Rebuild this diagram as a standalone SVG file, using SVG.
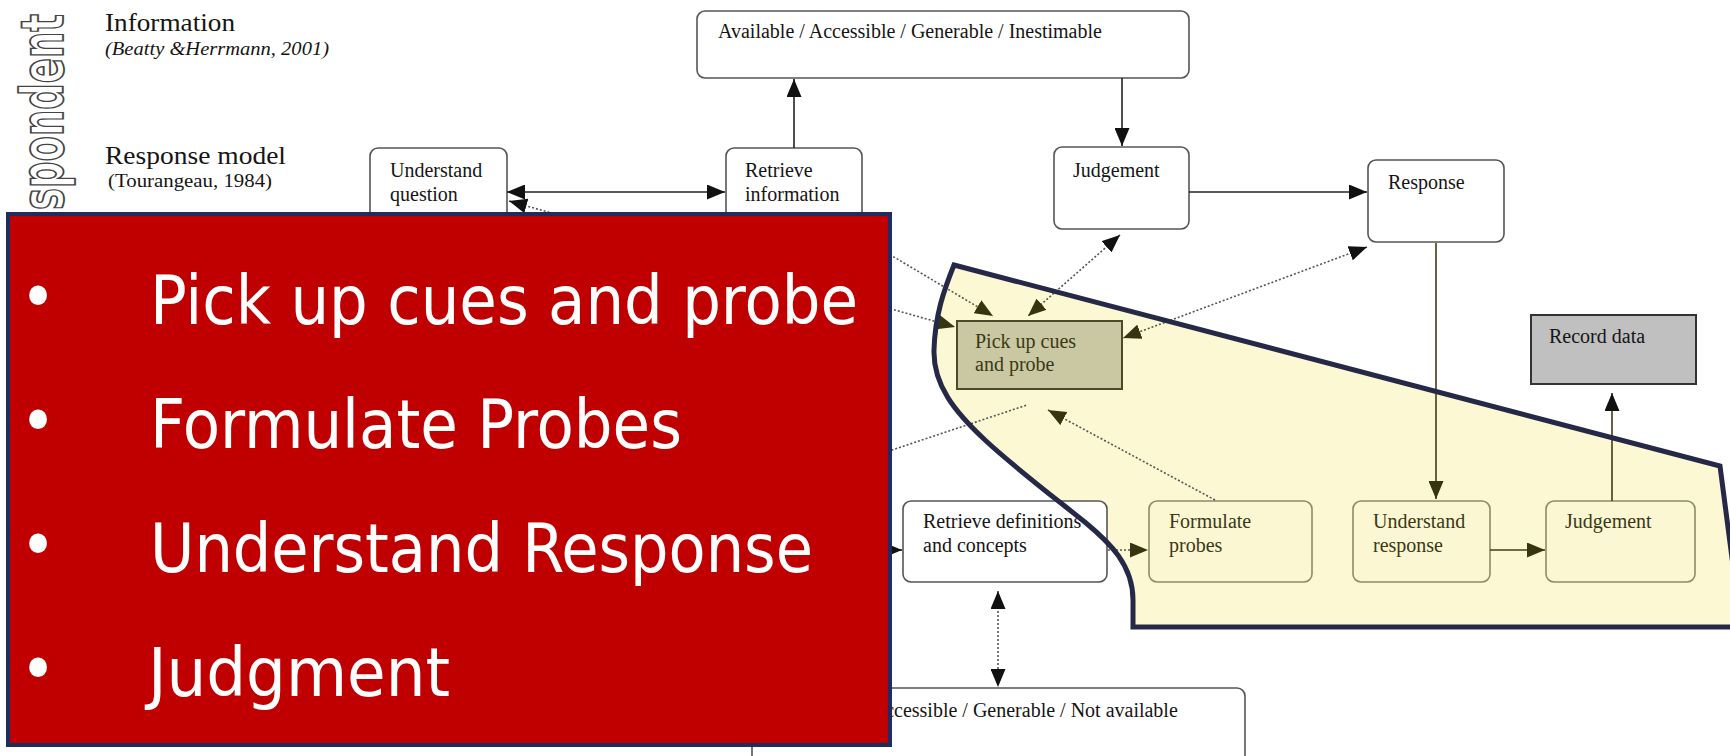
<svg xmlns="http://www.w3.org/2000/svg" width="1730" height="756" viewBox="0 0 1730 756">
  <defs>
    <marker id="ahB" markerUnits="userSpaceOnUse" markerWidth="18" markerHeight="15" refX="18" refY="7.5" orient="auto-start-reverse">
      <path d="M0,0 L18,7.5 L0,15 Z" fill="#111"/>
    </marker>
    <marker id="ahO" markerUnits="userSpaceOnUse" markerWidth="18" markerHeight="15" refX="18" refY="7.5" orient="auto-start-reverse">
      <path d="M0,0 L18,7.5 L0,15 Z" fill="#37350f"/>
    </marker>
  </defs>
  <style>
    .box{fill:#fff;stroke:#555;stroke-width:1.6}
    .ybox{fill:#fbf7d2;stroke:#8e8a66;stroke-width:1.6}
    .t{font-family:"Liberation Serif","Times New Roman",serif;font-size:20px;fill:#151515}
    .ty{font-family:"Liberation Serif","Times New Roman",serif;font-size:20px;fill:#3a3816}
    .head{font-family:"Liberation Serif","Times New Roman",serif;font-size:26px;fill:#151515}
    .cite{font-family:"Liberation Serif","Times New Roman",serif;font-size:19px;fill:#151515}
    .solid{stroke:#222;stroke-width:1.6;fill:none}
    .solidO{stroke:#3f3c18;stroke-width:1.6;fill:none}
    .dot{stroke:#555;stroke-width:1.6;stroke-dasharray:2 2;fill:none}
    .bul{font-family:"DejaVu Sans Condensed","DejaVu Sans",sans-serif;font-size:68px;fill:#fff}
  </style>

  <!-- side label, outlined letters -->
  <g id="side-label">
    <text transform="translate(63,210) rotate(-90)" textLength="196" lengthAdjust="spacingAndGlyphs"
          font-family="DejaVu Sans" font-weight="bold" font-size="58" fill="#fff" stroke="#444" stroke-width="1.8">spondent</text>
  </g>

  <!-- row headings -->
  <g id="headings">
    <text class="head" x="105" y="31" textLength="130" lengthAdjust="spacingAndGlyphs">Information</text>
    <text class="cite" x="105" y="55" font-style="italic" textLength="224" lengthAdjust="spacingAndGlyphs">(Beatty &amp;Herrmann, 2001)</text>
    <text class="head" x="105" y="164" textLength="181" lengthAdjust="spacingAndGlyphs">Response model</text>
    <text class="cite" x="108" y="187" textLength="164" lengthAdjust="spacingAndGlyphs">(Tourangeau, 1984)</text>
  </g>

  <!-- interviewer region background -->
  <path id="region-fill" d="M954,265 L1720,466 L1741,627 L1133,627 L1133,600 C1133,565 1110,543 1086,523 C1060,502 1015,468 985,440 C955,412 933,385 934,350 C935,315 944,290 954,265 Z" fill="#fcf8d3"/>

  <!-- nodes -->
  <g id="info-top">
    <rect class="box" x="697" y="11" width="492" height="67" rx="8"/>
    <text class="t" x="718" y="38">Available / Accessible / Generable / Inestimable</text>
  </g>
  <g id="understand-question">
    <rect class="box" x="370" y="148" width="137" height="82" rx="8"/>
    <text class="t" x="390" y="177">Understand</text>
    <text class="t" x="390" y="201">question</text>
  </g>
  <g id="retrieve-information">
    <rect class="box" x="726" y="148" width="136" height="82" rx="8"/>
    <text class="t" x="745" y="177">Retrieve</text>
    <text class="t" x="745" y="201">information</text>
  </g>
  <g id="judgement-top">
    <rect class="box" x="1054" y="147" width="135" height="82" rx="8"/>
    <text class="t" x="1073" y="177">Judgement</text>
  </g>
  <g id="response">
    <rect class="box" x="1368" y="160" width="136" height="82" rx="8"/>
    <text class="t" x="1388" y="189">Response</text>
  </g>
  <g id="pick-up-cues">
    <rect x="957" y="321" width="165" height="68" fill="#c9c8a2" stroke="#4d4a2a" stroke-width="2"/>
    <text class="ty" x="975" y="348">Pick up cues</text>
    <text class="ty" x="975" y="371">and probe</text>
  </g>
  <g id="record-data">
    <rect x="1531" y="315" width="165" height="69" fill="#c0c0c0" stroke="#333" stroke-width="2"/>
    <text class="t" x="1549" y="343">Record data</text>
  </g>
  <g id="retrieve-definitions">
    <rect class="box" x="903" y="501" width="204" height="81" rx="8"/>
    <text class="t" x="923" y="528">Retrieve definitions</text>
    <text class="t" x="923" y="552">and concepts</text>
  </g>
  <g id="formulate-probes">
    <rect class="ybox" x="1149" y="501" width="163" height="81" rx="8"/>
    <text class="ty" x="1169" y="528">Formulate</text>
    <text class="ty" x="1169" y="552">probes</text>
  </g>
  <g id="understand-response">
    <rect class="ybox" x="1353" y="501" width="137" height="81" rx="8"/>
    <text class="ty" x="1373" y="528">Understand</text>
    <text class="ty" x="1373" y="552">response</text>
  </g>
  <g id="judgement-bottom">
    <rect class="ybox" x="1546" y="501" width="149" height="81" rx="8"/>
    <text class="ty" x="1565" y="528">Judgement</text>
  </g>
  <g id="info-bottom">
    <rect class="box" x="752" y="688" width="493" height="90" rx="8"/>
    <text class="t" x="780" y="717">Available / Accessible / Generable / Not available</text>
  </g>

  <!-- connectors -->
  <g id="connectors">
    <path class="solid" d="M507,192 L725,192" marker-start="url(#ahB)" marker-end="url(#ahB)"/>
    <path class="solid" d="M794,148 L794,79" marker-end="url(#ahB)"/>
    <path class="solid" d="M1122,78 L1122,146" marker-end="url(#ahB)"/>
    <path class="solid" d="M1189,192 L1367,192" marker-end="url(#ahB)"/>
    <path class="dot" d="M852,232 L993,316" marker-end="url(#ahO)"/>
    <path class="dot" d="M509,201 L955,327" marker-start="url(#ahB)" marker-end="url(#ahO)"/>
    <path class="dot" d="M1120,235 L1028,316" marker-start="url(#ahB)" marker-end="url(#ahO)"/>
    <path class="dot" d="M1367,247 L1123,338" marker-start="url(#ahB)" marker-end="url(#ahO)"/>
    <path class="dot" d="M880,454 L1027,405"/>
    <path class="solidO" d="M1436,243 L1436,499" marker-end="url(#ahO)"/>
    <path class="solidO" d="M1490,550 L1545,550" marker-end="url(#ahO)"/>
    <path class="solidO" d="M1612,501 L1612,393" marker-end="url(#ahB)"/>
    <path class="dot" d="M1108,550 L1148,550" marker-end="url(#ahO)"/>
    <path class="dot" d="M1215,500 L1048,410" marker-end="url(#ahO)"/>
    <path class="solid" d="M880,550 L902,550" marker-end="url(#ahB)"/>
    <path class="dot" d="M998,591 L998,687" marker-start="url(#ahB)" marker-end="url(#ahB)"/>
  </g>

  <!-- interviewer region outline -->
  <path id="region-outline" d="M954,265 L1720,466 L1741,627 L1133,627 L1133,600 C1133,565 1110,543 1086,523 C1060,502 1015,468 985,440 C955,412 933,385 934,350 C935,315 944,290 954,265 Z" fill="none" stroke="#262848" stroke-width="5" stroke-linejoin="miter"/>

  <!-- summary callout -->
  <g id="callout">
    <rect x="8" y="214" width="882" height="531" fill="#c00000" stroke="#1f2d5e" stroke-width="4"/>
    <text class="bul" x="20" y="320" font-size="52">•</text>
    <text class="bul" x="20" y="444" font-size="52">•</text>
    <text class="bul" x="20" y="568" font-size="52">•</text>
    <text class="bul" x="20" y="692" font-size="52">•</text>
    <text class="bul" x="150" y="324" textLength="708" lengthAdjust="spacingAndGlyphs">Pick up cues and probe</text>
    <text class="bul" x="150" y="448" textLength="532" lengthAdjust="spacingAndGlyphs">Formulate Probes</text>
    <text class="bul" x="150" y="572" textLength="663" lengthAdjust="spacingAndGlyphs">Understand Response</text>
    <text class="bul" x="148" y="696" textLength="302" lengthAdjust="spacingAndGlyphs">Judgment</text>
  </g>
</svg>
